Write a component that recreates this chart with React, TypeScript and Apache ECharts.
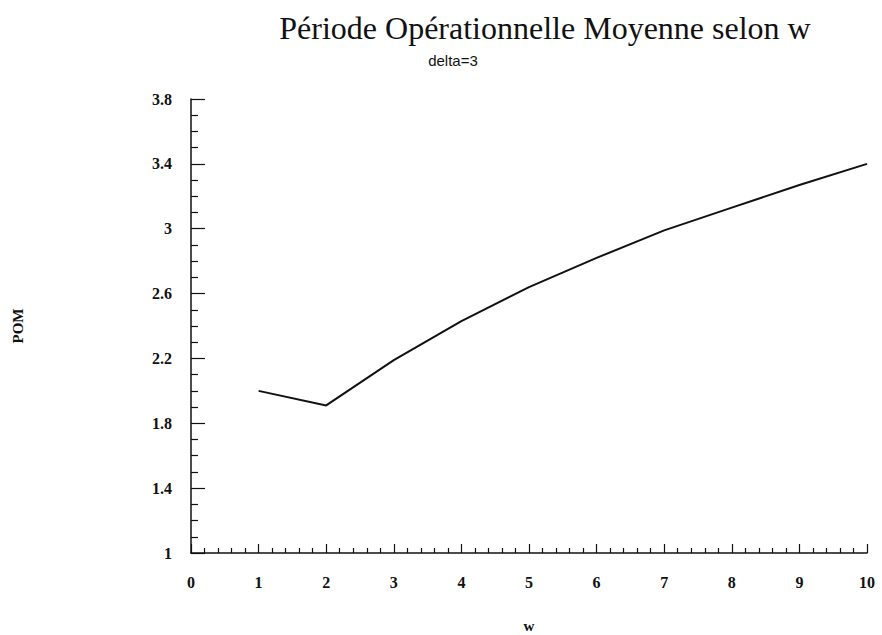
import React, { useEffect, useRef } from "react";
import * as echarts from "echarts";

const TITLE = "Période Opérationnelle Moyenne selon w";
const SUBTITLE = "delta=3";
const X_NAME = "w";
const Y_NAME = "POM";
const wValues = [1, 2, 3, 4, 5, 6, 7, 8, 9, 10];
const pomValues = [2.0, 1.91, 2.19, 2.43, 2.64, 2.82, 2.99, 3.13, 3.27, 3.4];

export default function App() {
  const ref = useRef<HTMLDivElement>(null);
  useEffect(() => {
    if (!ref.current) return;
    const chart = echarts.init(ref.current, null, { renderer: "svg" });
    const serif = "Liberation Serif";
    chart.setOption({
      animation: false,
      backgroundColor: "#ffffff",
      title: [
        {
          text: TITLE,
          left: 540,
          top: 7,
          textAlign: "center",
          textStyle: { fontFamily: serif, fontSize: 32, fontWeight: "normal", color: "#111" },
        },
        {
          text: SUBTITLE,
          left: 448,
          top: 48,
          textAlign: "center",
          textStyle: { fontFamily: "Liberation Sans Narrow, Liberation Sans", fontSize: 15, fontWeight: "normal", color: "#111" },
        },
      ],
      grid: { left: 191, right: 15, top: 99, bottom: 82, containLabel: false, outerBoundsMode: "none" },
      xAxis: {
        type: "value",
        min: 0,
        max: 10,
        interval: 1,
        name: X_NAME,
        nameLocation: "middle",
        nameGap: 65,
        nameTextStyle: { fontFamily: serif, fontSize: 15, fontWeight: "bold", color: "#111" },
        axisLine: { lineStyle: { color: "#111", width: 1.5 } },
        axisTick: { inside: true, length: 9, lineStyle: { color: "#111", width: 1.2 } },
        minorTick: { show: true, splitNumber: 5, length: 5, lineStyle: { color: "#111", width: 1.2 } },
        axisLabel: { margin: 21, fontFamily: serif, fontSize: 16, fontWeight: "bold", color: "#111" },
        splitLine: { show: false },
      },
      yAxis: {
        type: "value",
        min: 1,
        max: 3.8,
        interval: 0.4,
        name: Y_NAME,
        nameLocation: "middle",
        nameGap: 166,
        nameRotate: 90,
        nameTextStyle: { fontFamily: serif, fontSize: 15, fontWeight: "bold", color: "#111" },
        axisLine: { show: true, lineStyle: { color: "#111", width: 1.5 } },
        axisTick: { show: true, inside: true, length: 14, lineStyle: { color: "#111", width: 1.2 } },
        minorTick: { show: true, splitNumber: 4, length: 7, lineStyle: { color: "#111", width: 1.2 } },
        axisLabel: {
          margin: 19,
          fontFamily: serif,
          fontSize: 16,
          fontWeight: "bold",
          color: "#111",
          formatter: (v: number) => String(parseFloat(v.toFixed(1))),
        },
        splitLine: { show: false },
      },
      series: [
        {
          type: "line",
          data: wValues.map((w, i) => [w, pomValues[i]]),
          showSymbol: false,
          symbol: "none",
          lineStyle: { color: "#111", width: 2 },
        },
      ],
    });
    return () => chart.dispose();
  }, []);
  return (
    <div
      ref={ref}
      style={{ position: "fixed", left: 0, top: 0, width: 882, height: 635, background: "#fff" }}
    />
  );
}
